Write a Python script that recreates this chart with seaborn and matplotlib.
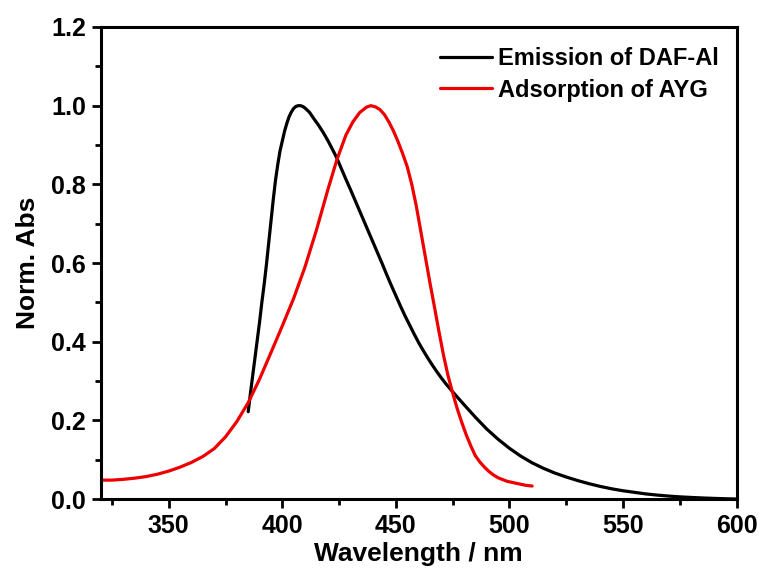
import matplotlib
matplotlib.use("Agg")
import matplotlib.pyplot as plt
from matplotlib.ticker import MultipleLocator, FormatStrFormatter
import seaborn as sns
import pandas as pd

# Emission spectrum of DAF-Al (normalised)
em_wavelength = [385, 386, 387, 388, 389, 390, 391, 392, 393, 394, 395, 396, 397,
                 398, 399, 400, 401, 402, 403, 404, 405, 406, 407, 408, 409, 410,
                 412, 414, 416, 418, 420, 422, 424, 426, 428, 430, 432, 434, 436,
                 438, 440, 442, 444, 446, 448, 450, 452, 454, 456, 458, 460, 462,
                 464, 466, 468, 470, 472, 474, 476, 480, 485, 490, 495, 500, 505,
                 510, 515, 520, 525, 530, 535, 540, 545, 550, 555, 560, 565, 570,
                 575, 580, 585, 590, 595, 600]
em_intensity = [0.222, 0.27, 0.315, 0.36, 0.405, 0.45, 0.50, 0.545, 0.595, 0.65,
                0.705, 0.76, 0.81, 0.85, 0.885, 0.91, 0.935, 0.955, 0.972, 0.984,
                0.993, 0.998, 1.0, 1.0, 0.998, 0.994, 0.983, 0.966, 0.950, 0.932,
                0.912, 0.890, 0.867, 0.840, 0.813, 0.787, 0.760, 0.733, 0.706,
                0.679, 0.652, 0.625, 0.598, 0.570, 0.543, 0.517, 0.491, 0.466,
                0.443, 0.420, 0.398, 0.378, 0.359, 0.341, 0.324, 0.308, 0.293,
                0.2795, 0.266, 0.240, 0.208, 0.178, 0.152, 0.129, 0.109, 0.092,
                0.078, 0.066, 0.056, 0.047, 0.039, 0.032, 0.026, 0.021, 0.017,
                0.013, 0.010, 0.0075, 0.0055, 0.004, 0.0027, 0.0016, 0.0007, 0.0]

# Absorption spectrum of AYG (normalised)
ab_wavelength = [320, 325, 330, 335, 340, 345, 350, 355, 360, 365, 370, 375, 380,
                 385, 390, 395, 400, 405, 410, 415, 420, 424, 428, 431, 434, 437,
                 439, 441, 443, 445, 447, 449, 451, 453, 455, 457, 459, 461, 463,
                 465, 467, 469, 471, 473, 475, 477, 479, 481, 483, 485, 487, 489,
                 491, 493, 495, 499, 503, 507, 510]
ab_intensity = [0.048, 0.048, 0.050, 0.053, 0.057, 0.063, 0.071, 0.081, 0.093,
                0.108, 0.128, 0.158, 0.197, 0.245, 0.305, 0.372, 0.44, 0.51, 0.59,
                0.683, 0.785, 0.862, 0.925, 0.958, 0.982, 0.996, 1.0, 0.997, 0.99,
                0.977, 0.958, 0.935, 0.908, 0.878, 0.845, 0.80, 0.745, 0.68, 0.615,
                0.55, 0.488, 0.425, 0.365, 0.313, 0.27, 0.23, 0.195, 0.163, 0.135,
                0.110, 0.094, 0.081, 0.070, 0.061, 0.054, 0.045, 0.040, 0.035,
                0.033]

labels = ["Emission of DAF-Al", "Adsorption of AYG"]
colors = ["#000000", "#ee0000"]

df = pd.concat([
    pd.DataFrame({"wavelength": em_wavelength, "value": em_intensity, "series": labels[0]}),
    pd.DataFrame({"wavelength": ab_wavelength, "value": ab_intensity, "series": labels[1]}),
], ignore_index=True)

sns.set_style("ticks")
plt.rcParams["font.family"] = ["Liberation Sans", "DejaVu Sans"]
plt.rcParams["font.weight"] = "bold"
plt.rcParams["text.color"] = "black"
plt.rcParams["axes.labelcolor"] = "black"
plt.rcParams["xtick.color"] = "black"
plt.rcParams["ytick.color"] = "black"

fig = plt.figure(figsize=(7.62, 5.72), dpi=100)
ax = fig.add_axes([0.132, 0.1276, 0.8346, 0.8252])

sns.lineplot(data=df, x="wavelength", y="value", hue="series", palette=colors,
             hue_order=labels, sort=False, estimator=None, linewidth=2.3, ax=ax)

ax.set_xlim(320, 600)
ax.set_ylim(0, 1.2)
ax.xaxis.set_major_locator(MultipleLocator(50))
ax.xaxis.set_minor_locator(MultipleLocator(25))
ax.yaxis.set_major_locator(MultipleLocator(0.2))
ax.yaxis.set_minor_locator(MultipleLocator(0.1))
ax.yaxis.set_major_formatter(FormatStrFormatter("%.1f"))

for side in ["top", "right", "left", "bottom"]:
    ax.spines[side].set_visible(True)
    ax.spines[side].set_linewidth(2.2)
    ax.spines[side].set_color("black")

ax.tick_params(axis="both", which="major", direction="out", length=6.5, width=2.0,
               labelsize=18, pad=4, top=False, right=False, colors="black")
ax.tick_params(axis="both", which="minor", direction="out", length=4, width=2.0,
               top=False, right=False, colors="black")
for lab in ax.get_xticklabels() + ax.get_yticklabels():
    lab.set_fontweight("bold")

ax.set_xlabel("Wavelength / nm", fontsize=19, fontweight="bold", labelpad=3)
ax.set_ylabel("Norm. Abs", fontsize=19, fontweight="bold", labelpad=8)

leg = ax.legend(loc="upper right", bbox_to_anchor=(0.972, 0.957), frameon=False,
                fontsize=17, handlelength=2.2, handletextpad=0.25, labelspacing=0.35,
                borderaxespad=0, borderpad=0)
for t in leg.get_texts():
    t.set_fontweight("bold")
for line in leg.get_lines():
    line.set_linewidth(2.3)

fig.savefig("out.png", dpi=100)
